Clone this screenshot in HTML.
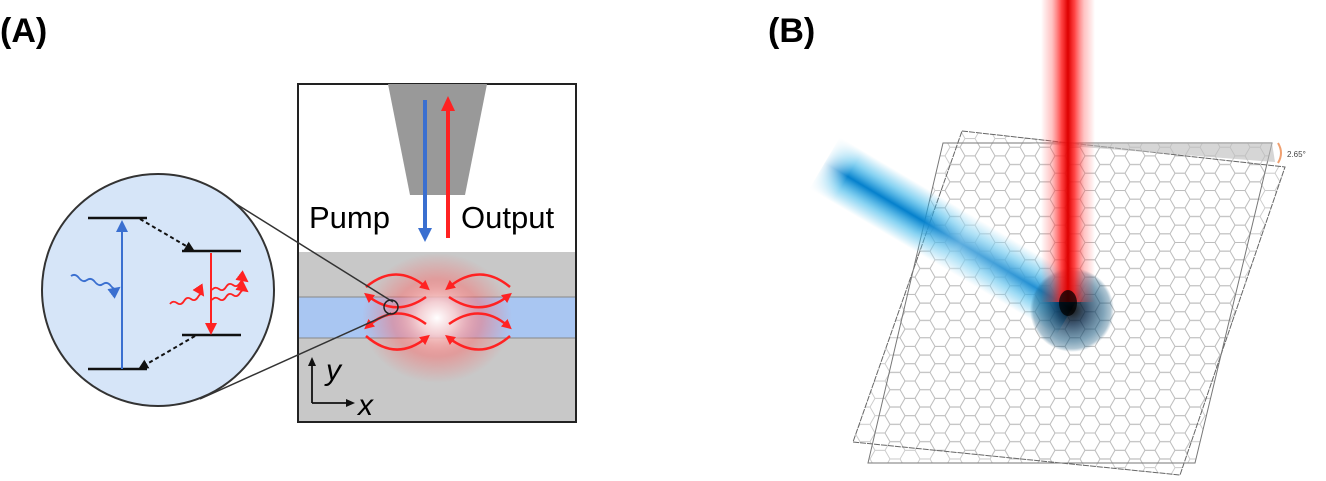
<!DOCTYPE html>
<html><head><meta charset="utf-8"><style>
html,body{margin:0;padding:0;background:#fff;}
svg{display:block}
text{font-family:"Liberation Sans",Arial,sans-serif}
</style></head><body>
<svg width="1326" height="481" viewBox="0 0 1326 481" xmlns="http://www.w3.org/2000/svg">
<defs>
<radialGradient id="glow" cx="0.5" cy="0.5" r="0.5">
<stop offset="0" stop-color="#fff" stop-opacity="1"/>
<stop offset="0.25" stop-color="#fbd0d0" stop-opacity="0.9"/>
<stop offset="0.6" stop-color="#f66" stop-opacity="0.45"/>
<stop offset="1" stop-color="#f66" stop-opacity="0"/>
</radialGradient>
<linearGradient id="redbeam" x1="0" x2="1" y1="0" y2="0">
<stop offset="0" stop-color="#f44" stop-opacity="0"/>
<stop offset="0.2" stop-color="#f55" stop-opacity="0.35"/>
<stop offset="0.38" stop-color="#f22" stop-opacity="0.85"/>
<stop offset="0.5" stop-color="#d00" stop-opacity="1"/>
<stop offset="0.62" stop-color="#f22" stop-opacity="0.85"/>
<stop offset="0.8" stop-color="#f55" stop-opacity="0.35"/>
<stop offset="1" stop-color="#f44" stop-opacity="0"/>
</linearGradient>
<linearGradient id="bluebeam" x1="0" x2="0" y1="0" y2="1">
<stop offset="0" stop-color="#2ab0e8" stop-opacity="0"/>
<stop offset="0.25" stop-color="#2ab0e8" stop-opacity="0.55"/>
<stop offset="0.5" stop-color="#0580cc" stop-opacity="1"/>
<stop offset="0.75" stop-color="#2ab0e8" stop-opacity="0.55"/>
<stop offset="1" stop-color="#2ab0e8" stop-opacity="0"/>
</linearGradient>
<linearGradient id="bluefade" x1="0" x2="1" y1="0" y2="0">
<stop offset="0" stop-color="#fff" stop-opacity="1"/>
<stop offset="0.1" stop-color="#fff" stop-opacity="0"/>
<stop offset="0.4" stop-color="#fff" stop-opacity="0"/>
<stop offset="0.55" stop-color="#fff" stop-opacity="0.35"/>
<stop offset="0.75" stop-color="#fff" stop-opacity="0.2"/>
<stop offset="1" stop-color="#fff" stop-opacity="0"/>
</linearGradient>
<radialGradient id="spot" cx="0.5" cy="0.5" r="0.5">
<stop offset="0" stop-color="#000" stop-opacity="0.9"/>
<stop offset="0.35" stop-color="#024" stop-opacity="0.75"/>
<stop offset="0.75" stop-color="#1a5a80" stop-opacity="0.55"/>
<stop offset="0.92" stop-color="#1a5a80" stop-opacity="0.35"/>
<stop offset="1" stop-color="#1a5a80" stop-opacity="0"/>
</radialGradient>
<pattern id="hex" width="30" height="17.32" patternUnits="userSpaceOnUse">
<path d="M0,8.66 L5,0 L15,0 L20,8.66 L15,17.32 L5,17.32 Z M20,8.66 L30,8.66" fill="none" stroke="#bbb" stroke-width="0.9"/>
</pattern>
<marker id="ar" markerWidth="10" markerHeight="10" refX="5" refY="5" orient="auto" markerUnits="userSpaceOnUse"><path d="M0,0 L10,5 L0,10 Z" fill="#f22"/></marker>
<marker id="ak" markerWidth="10" markerHeight="10" refX="8" refY="5" orient="auto" markerUnits="userSpaceOnUse"><path d="M0,0 L10,5 L0,10 Z" fill="#111"/></marker>
<marker id="ab" markerWidth="12" markerHeight="12" refX="10" refY="6" orient="auto" markerUnits="userSpaceOnUse"><path d="M0,0 L12,6 L0,12 Z" fill="#3a6fd0"/></marker>
<marker id="arr" markerWidth="12" markerHeight="12" refX="10" refY="6" orient="auto" markerUnits="userSpaceOnUse"><path d="M0,0 L12,6 L0,12 Z" fill="#f22"/></marker>
</defs>

<text x="0" y="42" font-size="34" font-weight="bold">(A)</text>
<text x="768" y="42" font-size="34" font-weight="bold">(B)</text>

<rect x="298" y="84" width="278" height="338" fill="#fff"/>
<rect x="298" y="252" width="278" height="170" fill="#c8c8c8"/>
<rect x="298" y="297" width="278" height="41" fill="#a9c6f2"/>
<line x1="298" y1="297" x2="576" y2="297" stroke="#888" stroke-width="1"/>
<line x1="298" y1="338" x2="576" y2="338" stroke="#888" stroke-width="1"/>
<ellipse cx="437" cy="318" rx="75" ry="65" fill="url(#glow)"/>
<rect x="298" y="84" width="278" height="338" fill="none" stroke="#222" stroke-width="2"/>
<path d="M388,84 L487,84 L465,195 L410,195 Z" fill="#999"/>
<line x1="425" y1="100" x2="425" y2="232" stroke="#3a6fd0" stroke-width="4"/>
<path d="M418,228 L432,228 L425,242 Z" fill="#3a6fd0"/>
<line x1="448" y1="238" x2="448" y2="108" stroke="#f22" stroke-width="4"/>
<path d="M441,111 L455,111 L448,96 Z" fill="#f22"/>
<text x="309" y="228" font-size="31">Pump</text>
<text x="461" y="228" font-size="31">Output</text>

<g fill="none" stroke="#f22" stroke-width="2.5">
<path d="M366,287 Q396,262 426,287" marker-end="url(#ar)"/>
<path d="M426,297 Q396,318 368,296" marker-end="url(#ar)"/>
<path d="M510,287 Q480,262 449,287" marker-end="url(#ar)"/>
<path d="M449,297 Q480,318 508,296" marker-end="url(#ar)"/>
<path d="M426,324 Q396,302 368,326" marker-end="url(#ar)"/>
<path d="M366,336 Q396,362 426,338" marker-end="url(#ar)"/>
<path d="M449,324 Q480,302 508,326" marker-end="url(#ar)"/>
<path d="M510,336 Q480,362 449,338" marker-end="url(#ar)"/>
</g>

<g stroke="#111" stroke-width="1.8" fill="none">
<line x1="312" y1="403" x2="312" y2="364"/>
<line x1="312" y1="403" x2="348" y2="403"/>
</g>
<path d="M308,366 L316,366 L312,357 Z" fill="#111"/>
<path d="M346,399 L346,407 L355,403 Z" fill="#111"/>
<text x="326" y="380" font-size="30" font-style="italic">y</text>
<text x="358" y="415" font-size="30" font-style="italic">x</text>

<line x1="225" y1="197" x2="393" y2="302" stroke="#333" stroke-width="1.5"/>
<line x1="200" y1="399" x2="391" y2="313" stroke="#333" stroke-width="1.5"/>
<circle cx="391" cy="307" r="7" fill="none" stroke="#222" stroke-width="1.5"/>

<circle cx="158" cy="290" r="116" fill="#d6e5f8" stroke="#333" stroke-width="2"/>
<g stroke="#111" stroke-width="2.5">
<line x1="88" y1="218" x2="147" y2="218"/>
<line x1="182" y1="251" x2="241" y2="251"/>
<line x1="182" y1="335" x2="241" y2="335"/>
<line x1="88" y1="369" x2="147" y2="369"/>
</g>
<line x1="122" y1="369" x2="122" y2="222" stroke="#3a6fd0" stroke-width="2" marker-end="url(#ab)"/>
<line x1="211" y1="253" x2="211" y2="333" stroke="#f22" stroke-width="2" marker-end="url(#arr)"/>
<g stroke="#111" stroke-width="2" stroke-dasharray="4,3" fill="none">
<line x1="140" y1="219" x2="193" y2="250" marker-end="url(#ak)"/>
<line x1="195" y1="336" x2="140" y2="368" marker-end="url(#ak)"/>
</g>
<path d="M71,276 q4,-3 8,2 t8,2 t8,2 t8,2 t8,2 t8,2" fill="none" stroke="#3a6fd0" stroke-width="1.8" marker-end="url(#ab)"/>
<path d="M170,304 q3,-4 7,-1 t7,-2 t7,-2 t7,-2 t5,-2" fill="none" stroke="#f22" stroke-width="1.8" marker-end="url(#arr)"/>
<path d="M212,290 q3,-4 7,-1 t7,-2 t7,-2 t7,-2 t7,-2" fill="none" stroke="#f22" stroke-width="1.8" marker-end="url(#arr)"/>
<path d="M212,300 q3,-4 7,-1 t7,-2 t7,-2 t7,-2 t7,-2" fill="none" stroke="#f22" stroke-width="1.8" marker-end="url(#arr)"/>

<polygon points="962,131 1285,167 1180,475 853,442" fill="url(#hex)" opacity="0.8"/>
<polygon points="943,143 1272,143 1195,463 868,463" fill="url(#hex)" opacity="0.8"/>
<polygon points="962,131 1285,167 1180,475 853,442" fill="none" stroke="#666" stroke-width="1" stroke-dasharray="6,1"/>
<polygon points="943,143 1272,143 1195,463 868,463" fill="none" stroke="#777" stroke-width="1"/>
<polygon points="1030,143 1272,143 1275,162" fill="#bbb" opacity="0.6"/>
<path d="M1278,143 Q1284,153 1278,163" fill="none" stroke="#f0a070" stroke-width="2"/>
<text x="1287" y="157" font-size="8" fill="#444">2.65°</text>

<g transform="translate(1070,308) rotate(30.6)">
<rect x="-285" y="-30" width="287" height="60" fill="url(#bluebeam)"/>
<rect x="-287" y="-32" width="289" height="64" fill="url(#bluefade)"/>
</g>
<circle cx="1072" cy="310" r="42" fill="url(#spot)"/>
<rect x="1041" y="0" width="54" height="302" fill="url(#redbeam)"/>
<ellipse cx="1068" cy="303" rx="9" ry="13" fill="#000" opacity="0.75"/>
</svg>
</body></html>
